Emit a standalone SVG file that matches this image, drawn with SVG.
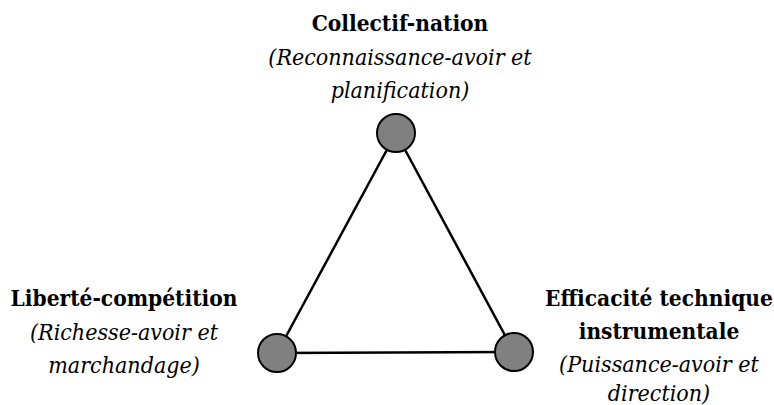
<svg xmlns="http://www.w3.org/2000/svg" width="774" height="405" viewBox="0 0 774 405">
<style>
text{font-family:"DejaVu Serif Condensed","DejaVu Serif",serif;font-stretch:condensed;font-size:23px;fill:#000;text-anchor:middle}
.b{font-weight:bold;font-size:22.5px}
.i{font-style:italic}
.n{fill:#808080;stroke:#000;stroke-width:2}
.e{stroke:#000;stroke-width:2.5;fill:none}
</style>
<rect width="774" height="405" fill="#fff"/>
<g id="connectors">
<line class="e" x1="396" y1="133" x2="277" y2="353"/>
<line class="e" x1="396" y1="133" x2="514" y2="352"/>
<line class="e" x1="277" y1="353" x2="514" y2="352"/>
</g>
<g id="collectif">
<circle class="n" cx="396" cy="133" r="19"/>
<text class="b" x="400" y="31">Collectif-nation</text>
<text class="i" x="400" y="65">(Reconnaissance-avoir et</text>
<text class="i" x="400" y="98">planification)</text>
</g>
<g id="liberte">
<circle class="n" cx="277" cy="353" r="19"/>
<text class="b" x="124" y="306">Liberté-compétition</text>
<text class="i" x="124" y="340">(Richesse-avoir et</text>
<text class="i" x="124" y="373">marchandage)</text>
</g>
<g id="efficacite">
<circle class="n" cx="514" cy="352" r="19"/>
<text class="b" x="659" y="306">Efficacité technique</text>
<text class="b" x="659" y="339">instrumentale</text>
<text class="i" x="659" y="372">(Puissance-avoir et</text>
<text class="i" x="659" y="401">direction)</text>
</g>
</svg>
